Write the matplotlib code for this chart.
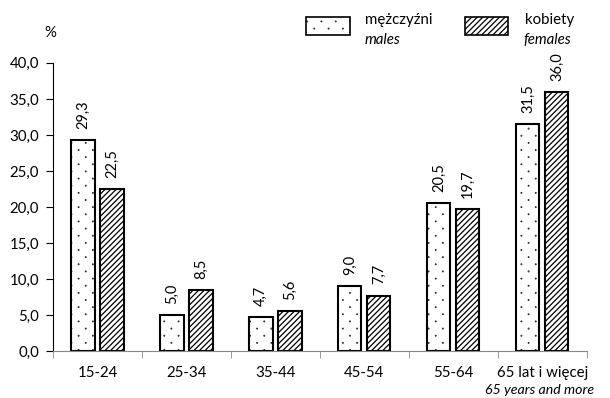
import matplotlib
matplotlib.use("Agg")
import matplotlib.pyplot as plt
import matplotlib.hatch as mhatch
from matplotlib.path import Path
from matplotlib.patches import Rectangle
import numpy as np

categories = ["15-24", "25-34", "35-44", "45-54", "55-64", "65 lat i więcej"]
extra_label = "65 years and more"
males = [29.3, 5.0, 4.7, 9.0, 20.5, 31.5]
females = [22.5, 8.5, 5.6, 7.7, 19.7, 36.0]
yticks = [0, 5, 10, 15, 20, 25, 30, 35, 40]


class StaggerDots(mhatch.HatchPatternBase):
    """Sparse staggered tiny dots, replacing the '.' hatch."""
    def __init__(self, hatch, density):
        k = hatch.count('.')
        circ = Path.unit_circle()
        self.shape_vertices = circ.vertices
        self.shape_codes = circ.codes
        self.pts = []
        if k:
            ncols = 7 * k
            nrows = 14 * k
            for r in range(nrows + 1):
                yy = r / nrows
                if r % 2 == 0:
                    xs = np.linspace(0, 1, ncols + 1)
                else:
                    xs = (np.arange(ncols) + 0.5) / ncols
                for xx in xs:
                    self.pts.append((xx, yy))
        self.num_vertices = len(self.pts) * len(self.shape_vertices)

    def set_vertices_and_codes(self, vertices, codes):
        rad = 0.003
        nv = len(self.shape_vertices)
        cur = 0
        for (xx, yy) in self.pts:
            vertices[cur:cur + nv] = self.shape_vertices * rad + (xx, yy)
            codes[cur:cur + nv] = self.shape_codes
            cur += nv


mhatch._hatch_types = [StaggerDots if t is mhatch.SmallFilledCircles else t
                       for t in mhatch._hatch_types]

plt.rcParams['font.family'] = ['Lato', 'DejaVu Sans']
plt.rcParams['hatch.linewidth'] = 0.9

fig = plt.figure(figsize=(6.1, 3.98), dpi=100)
ax = fig.add_axes([0.087, 0.118, 0.875, 0.724])

x = np.arange(len(categories))
w = 0.26
off = 0.163
ax.bar(x - off, males, w, color='white', edgecolor='black', linewidth=1.5, hatch='.')
ax.bar(x + off, females, w, color='white', edgecolor='black', linewidth=1.5, hatch='//////')

for xi, v in zip(x - off, males):
    ax.annotate(f"{v:.1f}".replace('.', ','), (xi, v), xytext=(0, 8), textcoords='offset points',
                rotation=90, ha='center', va='bottom', fontsize=10.5)
for xi, v in zip(x + off, females):
    ax.annotate(f"{v:.1f}".replace('.', ','), (xi, v), xytext=(0, 8), textcoords='offset points',
                rotation=90, ha='center', va='bottom', fontsize=10.5)

ax.set_xlim(-0.5, len(categories) - 0.5)
ax.set_ylim(0, 40)
ax.set_yticks(yticks)
ax.set_yticklabels([f"{t:.1f}".replace('.', ',') for t in yticks], fontsize=10.8)
ax.set_xticks(x)
ax.set_xticklabels(categories, fontsize=10.8)
ax.tick_params(axis='x', which='major', length=0, pad=11)
ax.set_xticks(np.arange(-0.5, len(categories), 1), minor=True)
ax.tick_params(axis='x', which='minor', length=5, color='#888888', direction='out')
ax.tick_params(axis='y', length=5, direction='out', color='black', pad=5)

for s in ['top', 'right']:
    ax.spines[s].set_visible(False)
ax.spines['bottom'].set_color('#888888')
ax.spines['left'].set_color('black')

ax.text(len(categories) - 1 - 0.03, -0.115, extra_label, transform=ax.get_xaxis_transform(),
        ha='center', va='top', fontsize=10.2, style='italic')

fig.text(50 / 610, 1 - 33 / 398, "%", ha='center', va='center', fontsize=10.8)


def fig_rect(x0, y0, x1, y1, hatch):
    r = Rectangle((x0 / 610, 1 - y1 / 398), (x1 - x0) / 610, (y1 - y0) / 398,
                  transform=fig.transFigure, facecolor='white', edgecolor='black',
                  linewidth=1.2, hatch=hatch)
    fig.patches.append(r)


fig_rect(306, 17, 350, 35, '.')
fig_rect(465, 17, 508, 35, '//////')
fig.text(365 / 610, 1 - 20 / 398, "mężczyźni", ha='left', va='center', fontsize=10.8)
fig.text(365 / 610, 1 - 40 / 398, "males", ha='left', va='center', fontsize=10.8, style='italic')
fig.text(525 / 610, 1 - 20 / 398, "kobiety", ha='left', va='center', fontsize=10.8)
fig.text(523 / 610, 1 - 40 / 398, "females", ha='left', va='center', fontsize=10.8, style='italic')

fig.savefig("out.png", dpi=100)
